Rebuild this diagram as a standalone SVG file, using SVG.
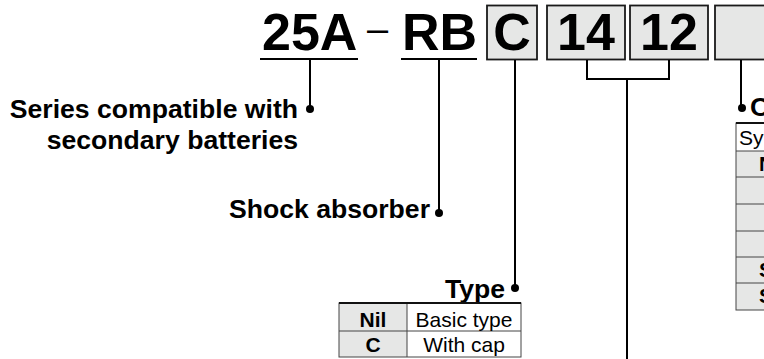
<svg xmlns="http://www.w3.org/2000/svg" width="764" height="359" viewBox="0 0 764 359">
<style>
.big{font-family:"Liberation Sans",Arial,sans-serif;font-weight:bold;font-size:52px;fill:#000}
.lbl{font-family:"Liberation Sans",Arial,sans-serif;font-weight:bold;font-size:26.6px;fill:#000}
.cell{font-family:"Liberation Sans",Arial,sans-serif;font-size:21px;fill:#000}
.cellb{font-family:"Liberation Sans",Arial,sans-serif;font-weight:bold;font-size:21px;fill:#000}
.box{fill:#e6e7e6;stroke:#1a1a1a;stroke-width:1.8}
.ln{stroke:#000;stroke-width:2;fill:none}
.grid{stroke:#444;stroke-width:1;fill:none}
.g{fill:#e6e7e6}
</style>
<rect width="764" height="359" fill="#fff"/>

<g id="code">
  <text class="big" x="262" y="50">25A</text>
  <line class="ln" x1="260" y1="59" x2="358" y2="59"/>
  <text x="377.5" y="42" text-anchor="middle" font-family="Liberation Sans, Arial, sans-serif" font-size="38">–</text>
  <text class="big" x="402" y="50">RB</text>
  <line class="ln" x1="401" y1="59" x2="477" y2="59"/>
  <rect class="box" x="487" y="5.5" width="50" height="54"/>
  <text class="big" x="512" y="50" text-anchor="middle">C</text>
  <rect class="box" x="547" y="5.5" width="78" height="54"/>
  <text class="big" x="586" y="50" text-anchor="middle">14</text>
  <rect class="box" x="630" y="5.5" width="78" height="54"/>
  <text class="big" x="669" y="50" text-anchor="middle">12</text>
  <rect class="box" x="715" y="5.5" width="60" height="54"/>
</g>

<g id="connectors">
  <line class="ln" x1="310" y1="60" x2="310" y2="109"/>
  <circle cx="310" cy="109" r="4"/>
  <line class="ln" x1="439" y1="60" x2="439" y2="213"/>
  <circle cx="439" cy="213" r="4"/>
  <line class="ln" x1="515" y1="60" x2="515" y2="288"/>
  <circle cx="515" cy="288" r="4"/>
  <polyline class="ln" points="587,60 587,79 669,79 669,60"/>
  <line class="ln" x1="627" y1="79" x2="627" y2="359"/>
  <line class="ln" x1="741" y1="60" x2="741" y2="108"/>
  <circle cx="742" cy="108" r="4"/>
</g>

<g id="series">
  <text class="lbl" x="298" y="118" text-anchor="end">Series compatible with</text>
  <text class="lbl" x="298" y="149" text-anchor="end">secondary batteries</text>
</g>

<g id="shock">
  <text class="lbl" x="430" y="218" text-anchor="end">Shock absorber</text>
</g>

<g id="type">
  <text class="lbl" x="505" y="298" text-anchor="end">Type</text>
  <rect class="g" x="339" y="303" width="68" height="54"/>
  <rect x="339" y="303" width="182" height="54" class="grid"/>
  <line class="grid" x1="407" y1="303" x2="407" y2="357"/>
  <line class="grid" x1="339" y1="331" x2="521" y2="331"/>
  <line stroke="#111" stroke-width="2" x1="339" y1="303" x2="521" y2="303"/>
  <text class="cellb" x="373" y="327" text-anchor="middle">Nil</text>
  <text class="cell" x="464" y="327" text-anchor="middle">Basic type</text>
  <text class="cellb" x="373" y="352" text-anchor="middle">C</text>
  <text class="cell" x="464" y="352" text-anchor="middle">With cap</text>
</g>

<g id="option">
  <text class="lbl" x="750" y="116">O</text>
  <rect class="g" x="736" y="151" width="40" height="159"/>
  <rect class="grid" x="736" y="123" width="40" height="187"/>
  <line stroke="#111" stroke-width="2" x1="736" y1="123" x2="764" y2="123"/>
  <line class="grid" x1="736" y1="151" x2="764" y2="151"/>
  <line class="grid" x1="736" y1="177" x2="764" y2="177"/>
  <line class="grid" x1="736" y1="204" x2="764" y2="204"/>
  <line class="grid" x1="736" y1="231" x2="764" y2="231"/>
  <line class="grid" x1="736" y1="257" x2="764" y2="257"/>
  <line class="grid" x1="736" y1="283" x2="764" y2="283"/>
  <text class="cell" x="739" y="145">Sy</text>
  <text class="cellb" x="759" y="171">N</text>
  <text class="cellb" x="759" y="277">S</text>
  <text class="cellb" x="759" y="303">S</text>
</g>
</svg>
